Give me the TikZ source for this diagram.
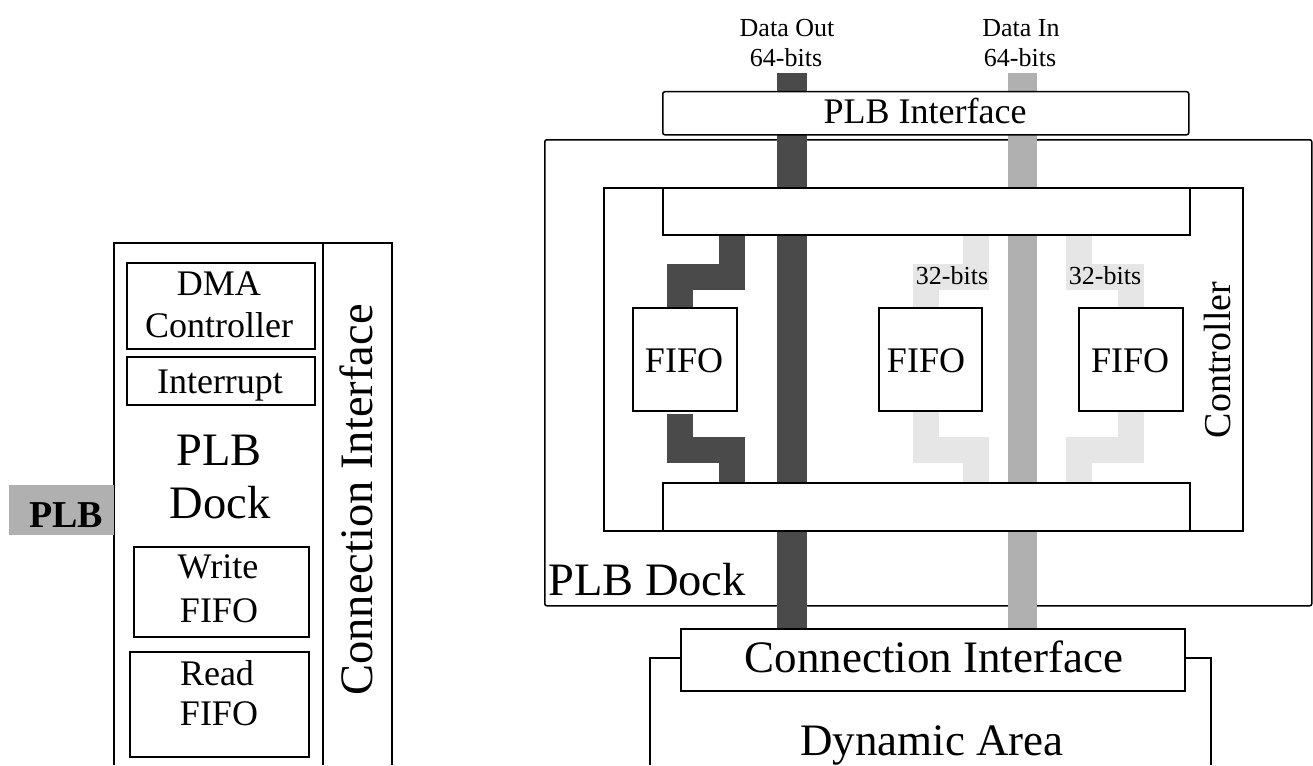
\documentclass[tikz,border=0pt]{standalone}
\usepackage{fontspec}
\setmainfont{Liberation Serif}
\newcommand\FSs{\fontsize{26}{30}\selectfont}
\newcommand\FSm{\fontsize{36}{42}\selectfont}
\newcommand\FSl{\fontsize{45}{52}\selectfont}
\newcommand\FSxl{\fontsize{46.5}{54}\selectfont}
\definecolor{busdark}{HTML}{4A4A4A}
\definecolor{busmid}{HTML}{B0B0B0}
\definecolor{buslight}{HTML}{E6E6E6}
\begin{document}
\begin{tikzpicture}[x=1pt,y=-1pt,
  box/.style={draw, line width=1.5pt, fill=white, inner sep=0pt, anchor=north west},
  frame/.style={draw, line width=1.5pt},
  lbl/.style={anchor=base, inner sep=0pt},
  darkz/.style={draw=busdark, line width=26pt, line cap=butt, line join=miter},
  lightz/.style={draw=buslight, line width=26pt, line cap=butt, line join=miter},
  outbar/.style={draw=busdark, line width=30pt, line cap=butt},
  inbar/.style={draw=busmid, line width=29pt, line cap=butt}]
\useasboundingbox (0,0) rectangle (1313,765);
\fill[white] (0,0) rectangle (1313,765);

% ---------- left panel ----------
\coordinate (lpBL) at (114,765);
\coordinate (lpTL) at (114,243);
\coordinate (lpTR) at (392,243);
\coordinate (lpBR) at (392,765);
\coordinate (lpDT) at (323,243);
\coordinate (lpDB) at (323,765);
\draw[frame] (lpBL) -- (lpTL) -- (lpTR) -- (lpBR);
\draw[frame] (lpDT) -- (lpDB);
\node[fill=busmid, inner sep=0pt, minimum width=105pt, minimum height=50pt, anchor=north west] (plb) at (9,485) {};
\node[lbl, font=\fontsize{38}{44}\selectfont\bfseries] (plbt) at (66,527) {PLB};
\node[box, minimum width=188pt, minimum height=86pt] (dma) at (126,262) {};
\node[lbl, font=\FSm] (dmat1) at (219,295) {DMA};
\node[lbl, font=\FSm] (dmat2) at (219,337) {Controller};
\node[box, minimum width=188pt, minimum height=48pt] (intr) at (126,356) {};
\node[lbl, font=\FSm] (intrt) at (220,393) {Interrupt};
\node[lbl, font=\FSxl] (dock1) at (219,465) {PLB};
\node[lbl, font=\FSxl] (dock2) at (220,518) {Dock};
\node[box, minimum width=175pt, minimum height=90pt] (wf) at (133,546) {};
\node[lbl, font=\FSm] (wft1) at (218,578) {Write};
\node[lbl, font=\FSm] (wft2) at (219,622) {FIFO};
\node[box, minimum width=179pt, minimum height=105pt] (rf) at (129,651) {};
\node[lbl, font=\FSm] (rft1) at (217,685) {Read};
\node[lbl, font=\FSm] (rft2) at (219,725) {FIFO};
\node[lbl, font=\FSxl, rotate=90] (ci1) at (372,500) {Connection Interface};

% ---------- right panel ----------
\node[draw, line width=1.5pt, rounded corners=2pt, inner sep=0pt, minimum width=767pt, minimum height=466pt, anchor=north west] (dock) at (544,139) {};
\node[draw, line width=1.5pt, inner sep=0pt, minimum width=639pt, minimum height=343pt, anchor=north west] (ctrl) at (603,187) {};
\coordinate (daBL) at (650,765);
\coordinate (daTL) at (650,658);
\coordinate (daTR) at (1211,658);
\coordinate (daBR) at (1211,765);
\draw[frame] (daBL) -- (daTL) -- (daTR) -- (daBR);

\coordinate (doTop) at (792,73);
\coordinate (doBot) at (792,630);
\coordinate (diTop) at (1022.5,73);
\coordinate (diBot) at (1022.5,630);
\draw[outbar] (doTop) -- (doBot);
\draw[inbar] (diTop) -- (diBot);

\node[box, minimum width=104pt, minimum height=103pt] (fifoA) at (632,307) {};
\node[box, minimum width=103pt, minimum height=103pt] (fifoB) at (878,307) {};
\node[box, minimum width=104pt, minimum height=103pt] (fifoC) at (1078,307) {};

\draw[darkz] (732,230) -- (732,276.5) -- (680,276.5) -- (680,0 |- fifoA.north);
\draw[darkz] (680,414) -- (680,450) -- (732,450) -- (732,484);
\draw[lightz] (976,230) -- (976,276.5) -- (926,276.5) -- (926,0 |- fifoB.north);
\draw[lightz] (926,0 |- fifoB.south) -- (926,450) -- (976,450) -- (976,484);
\draw[lightz] (1079,230) -- (1079,276.5) -- (1131,276.5) -- (1131,0 |- fifoC.north);
\draw[lightz] (1131,0 |- fifoC.south) -- (1131,450) -- (1079,450) -- (1079,484);

\node[box, rounded corners=2pt, minimum width=526pt, minimum height=43pt] (plbif) at (662,91) {};
\node[box, minimum width=527pt, minimum height=47pt] (topbus) at (662,187) {};
\node[box, minimum width=527pt, minimum height=48pt] (botbus) at (662,482) {};
\node[box, minimum width=504pt, minimum height=62pt] (conif) at (680,628) {};

% labels
\node[lbl, font=\FSs] (dot1) at (787,37) {Data Out};
\node[lbl, font=\FSs] (dot2) at (786,67) {64-bits};
\node[lbl, font=\FSs] (dit1) at (1021,37) {Data In};
\node[lbl, font=\FSs] (dit2) at (1020,67) {64-bits};
\node[lbl, font=\FSm] (plbift) at (925,124) {PLB Interface};
\node[lbl, font=\FSs] (b32a) at (952,284) {32-bits};
\node[lbl, font=\FSs] (b32b) at (1105,284) {32-bits};
\node[lbl, font=\FSm] (fat) at (684,372) {FIFO};
\node[lbl, font=\FSm] (fbt) at (926,372) {FIFO};
\node[lbl, font=\FSm] (fct) at (1130,372) {FIFO};
\node[lbl, font=\fontsize{38}{44}\selectfont, rotate=90] (ctrlt) at (1230,360) {Controller};
\node[lbl, font=\FSxl, anchor=base west] (dockt) at (548,595) {PLB Dock};
\node[lbl, font=\FSl] (conift) at (934,672) {Connection Interface};
\node[lbl, font=\FSl] (dat) at (932,755) {Dynamic Area};
\end{tikzpicture}
\end{document}
